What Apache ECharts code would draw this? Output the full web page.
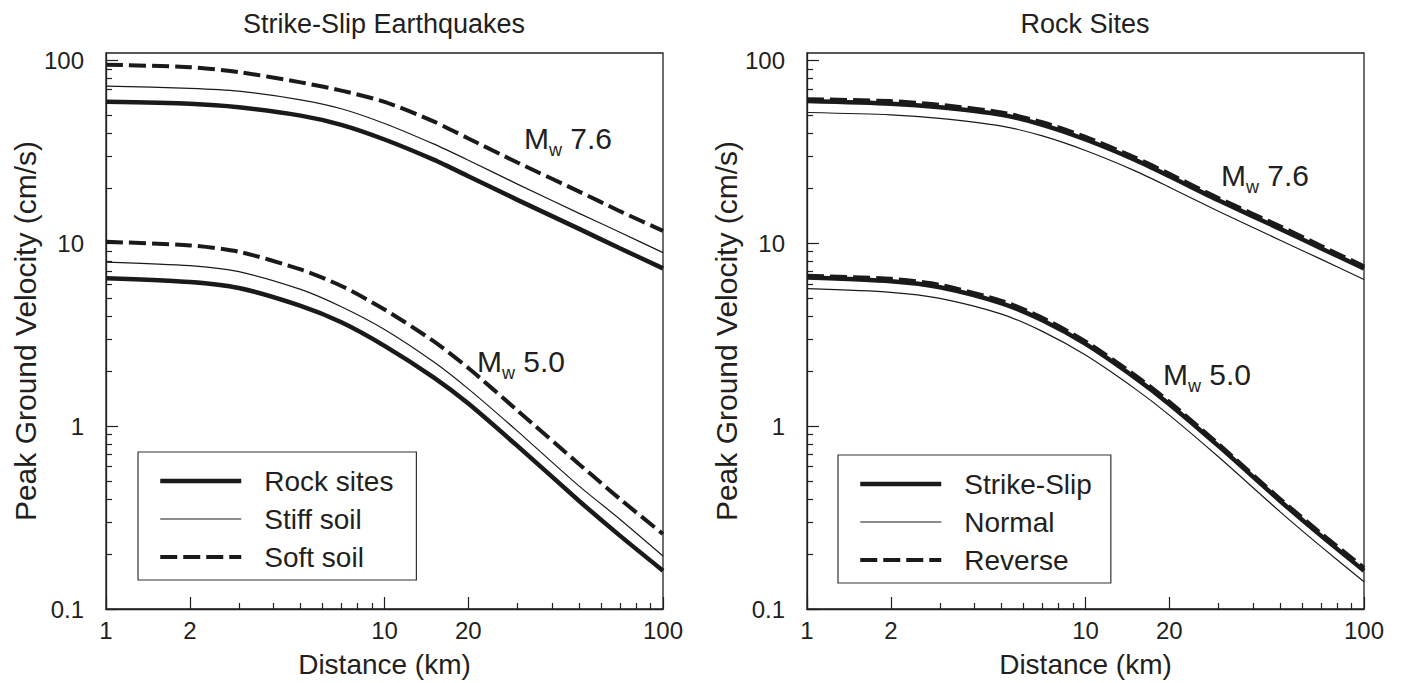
<!DOCTYPE html>
<html>
<head>
<meta charset="utf-8">
<title>Peak Ground Velocity</title>
<script src="https://cdn.jsdelivr.net/npm/echarts@6.0.0/dist/echarts.min.js"></script>
<style>
  html, body { margin: 0; padding: 0; background: #fff; }
  #chart { width: 1401px; height: 683px; }
</style>
</head>
<body>
<div id="chart"></div>
<script>
var distances = [1, 2, 3, 5, 7, 10, 15, 20, 30, 50, 70, 100];

// left panel: strike-slip earthquakes, by site class (cm/s)
var rockM76  = [59.5, 58, 55.5, 50, 44.5, 37, 28.7, 23.3, 17.3, 12.0, 9.4, 7.3];
var stiffM76 = [72.5, 70.5, 68, 61, 54.5, 45.3, 35, 28.5, 21.1, 14.6, 11.5, 8.9];
var softM76  = [95, 92, 86.5, 76, 68.5, 59.5, 46.5, 37.5, 27.7, 19.2, 15, 11.7];
var rockM50  = [6.45, 6.15, 5.7, 4.55, 3.7, 2.75, 1.85, 1.33, 0.78, 0.39, 0.252, 0.162];
var stiffM50 = [7.9, 7.55, 7.0, 5.6, 4.5, 3.38, 2.25, 1.6, 0.94, 0.47, 0.31, 0.195];
var softM50  = [10.2, 9.75, 9.0, 7.2, 5.85, 4.35, 2.92, 2.08, 1.22, 0.62, 0.4, 0.257];

// right panel: rock sites, by fault type (cm/s)
var strikeM76  = [60, 58, 55.5, 50.5, 44.5, 37, 28.7, 23.3, 17.2, 12.0, 9.4, 7.3];
var normalM76  = [52, 50.5, 48.3, 43.8, 38.7, 32.2, 25, 20.3, 15, 10.4, 8.2, 6.35];
var reverseM76 = [61.5, 60, 57.3, 52, 46, 38.2, 29.6, 24, 17.7, 12.4, 9.7, 7.5];
var strikeM50  = [6.5, 6.2, 5.75, 4.7, 3.8, 2.82, 1.85, 1.32, 0.78, 0.39, 0.252, 0.162];
var normalM50  = [5.65, 5.4, 5.0, 4.1, 3.3, 2.45, 1.61, 1.15, 0.68, 0.34, 0.22, 0.141];
var reverseM50 = [6.65, 6.4, 5.93, 4.85, 3.92, 2.91, 1.91, 1.36, 0.8, 0.4, 0.26, 0.168];

// axis ticks
var xMajor = [1, 2, 10, 20, 100];
var xMinor = [3, 4, 5, 6, 7, 8, 9, 30, 40, 50, 60, 70, 80, 90];
var yMajor = [0.1, 1, 10, 100];
var yMinor = [0.2, 0.3, 0.4, 0.5, 0.6, 0.7, 0.8, 0.9, 2, 3, 4, 5, 6, 7, 8, 9, 20, 30, 40, 50, 60, 70, 80, 90];

var ink = '#231f20';
var font = '"Liberation Sans", Arial, sans-serif';

function pairs(values) {
    var out = [];
    for (var i = 0; i < distances.length; i++) {
        out.push([distances[i], values[i]]);
    }
    return out;
}

function xAxes(gridIndex) {
    return [{
        gridIndex: gridIndex, type: 'log', logBase: 10, min: 1, max: 100, position: 'bottom',
        name: 'Distance (km)', nameLocation: 'middle', nameGap: 41,
        nameTextStyle: { color: ink, fontSize: 28, fontFamily: font },
        axisLine: { lineStyle: { color: ink, width: 1.3 } },
        axisTick: { inside: true, length: 12, customValues: xMajor, lineStyle: { color: ink, width: 1.2 } },
        axisLabel: { customValues: xMajor, margin: 9, color: ink, fontSize: 24, fontFamily: font },
        splitLine: { show: false }
    }, {
        // minor ticks only
        gridIndex: gridIndex, type: 'log', logBase: 10, min: 1, max: 100, position: 'bottom',
        axisLine: { show: false },
        axisTick: { inside: true, length: 6, customValues: xMinor, lineStyle: { color: ink, width: 1.2 } },
        axisLabel: { show: false },
        splitLine: { show: false }
    }];
}

function yAxes(gridIndex) {
    return [{
        gridIndex: gridIndex, type: 'log', logBase: 10, min: 0.1, max: 110, position: 'left',
        name: 'Peak Ground Velocity (cm/s)', nameLocation: 'middle', nameGap: 66,
        nameTextStyle: { color: ink, fontSize: 30, fontFamily: font },
        axisLine: { lineStyle: { color: ink, width: 1.3 } },
        axisTick: { inside: true, length: 12, customValues: yMajor, lineStyle: { color: ink, width: 1.2 } },
        axisLabel: { customValues: yMajor, margin: 22, color: ink, fontSize: 24, fontFamily: font },
        splitLine: { show: false }
    }, {
        // minor ticks only
        gridIndex: gridIndex, type: 'log', logBase: 10, min: 0.1, max: 110, position: 'left',
        axisLine: { show: false },
        axisTick: { inside: true, length: 6, customValues: yMinor, lineStyle: { color: ink, width: 1.2 } },
        axisLabel: { show: false },
        splitLine: { show: false }
    }];
}

var thick = { color: '#1a1a1a', width: 4.5 };
var thin = { color: '#1a1a1a', width: 1.2 };
var dashed = { color: '#1a1a1a', width: 4, type: [17, 6] };

function curve(name, values, axisIndex, style) {
    return {
        name: name, type: 'line', data: pairs(values),
        xAxisIndex: axisIndex, yAxisIndex: axisIndex,
        showSymbol: false, symbol: 'none', smooth: 0.25,
        lineStyle: style, itemStyle: { color: '#1a1a1a' },
        silent: true, animation: false
    };
}

function mwLabel(x, y, mag) {
    return {
        type: 'text', x: x, y: y,
        style: {
            text: 'M{w|w} ' + mag, fill: ink, fontSize: 30, fontFamily: font, lineHeight: 42,
            verticalAlign: 'top', align: 'left',
            rich: { w: { fontSize: 18, lineHeight: 20, verticalAlign: 'bottom', fontFamily: font, fill: ink } }
        }
    };
}

function legendBox(left, top, names, padRight) {
    return {
        orient: 'vertical', left: left, top: top,
        data: names, selectedMode: false,
        itemWidth: 81, itemHeight: 14, itemGap: 10,
        padding: [15, padRight, 9, 20],
        borderColor: '#333', borderWidth: 1.2, backgroundColor: '#fff',
        itemStyle: { opacity: 0 },
        lineStyle: { width: 'inherit' },
        textStyle: { color: ink, fontSize: 28, fontFamily: font, padding: [0, 0, 0, 18] }
    };
}

var chart = echarts.init(document.getElementById('chart'), null, { renderer: 'svg' });

var option = {
    backgroundColor: '#fff',
    animation: false,
    grid: [
        { left: 106, top: 53, width: 557, height: 557, show: true, borderColor: ink, borderWidth: 1.3 },
        { left: 807, top: 53, width: 557, height: 557, show: true, borderColor: ink, borderWidth: 1.3 }
    ],
    xAxis: xAxes(0).concat(xAxes(1)),
    yAxis: yAxes(0).concat(yAxes(1)),
    legend: [
        legendBox(138, 452, ['Rock sites', 'Stiff soil', 'Soft soil'], 23),
        legendBox(838, 455, ['Strike-Slip', 'Normal', 'Reverse'], 19)
    ],
    series: [
        curve('Rock sites', rockM76, 0, thick),
        curve('Stiff soil', stiffM76, 0, thin),
        curve('Soft soil', softM76, 0, dashed),
        curve('Rock sites', rockM50, 0, thick),
        curve('Stiff soil', stiffM50, 0, thin),
        curve('Soft soil', softM50, 0, dashed),
        curve('Strike-Slip', strikeM76, 2, thick),
        curve('Normal', normalM76, 2, thin),
        curve('Reverse', reverseM76, 2, dashed),
        curve('Strike-Slip', strikeM50, 2, thick),
        curve('Normal', normalM50, 2, thin),
        curve('Reverse', reverseM50, 2, dashed)
    ],
    graphic: [
        { type: 'text', x: 384, y: 10, style: { text: 'Strike-Slip Earthquakes', fill: ink, fontSize: 27, fontFamily: font, align: 'center', verticalAlign: 'top' } },
        { type: 'text', x: 1085, y: 10, style: { text: 'Rock Sites', fill: ink, fontSize: 27, fontFamily: font, align: 'center', verticalAlign: 'top' } },
        mwLabel(524, 117, '7.6'),
        mwLabel(477, 340, '5.0'),
        mwLabel(1221, 154, '7.6'),
        mwLabel(1163, 353, '5.0')
    ]
};

chart.setOption(option);
</script>
</body>
</html>
